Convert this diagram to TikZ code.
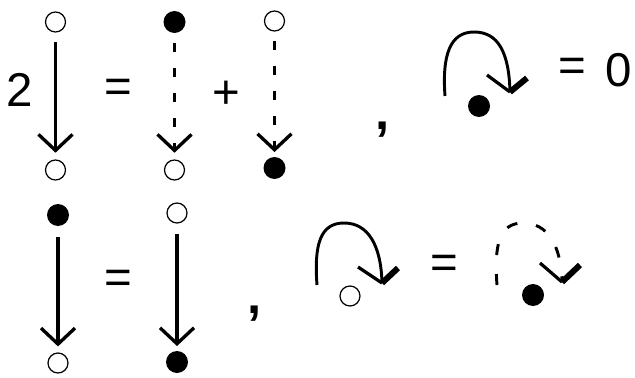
\documentclass[tikz,border=0pt]{standalone}
\usepackage{fontspec}
\setmainfont{Liberation Sans}
\usetikzlibrary{arrows.meta}
\tikzset{
  opendot/.style={circle, draw, line width=0.9pt, minimum size=15pt, inner sep=0pt},
  fulldot/.style={circle, fill, minimum size=16.5pt, inner sep=0pt},
  arr/.style={line width=2.5pt, -{Straight Barb[length=12pt, width=25.5pt, line width=2.5pt]}, shorten <=7pt},
  dsh/.style={arr, dash pattern=on 6.75pt off 12pt},
  loopc/.style={line width=2.2pt},
  dloopc/.style={line width=2.2pt, dash pattern=on 8.25pt off 14.25pt},
  wthin/.style={line width=2.4pt},
  wthick/.style={line width=4.5pt},
  sym/.style={font=\fontsize{35.6}{40}\selectfont, inner sep=0pt},
  commastyle/.style={font=\fontsize{38}{40}\selectfont\bfseries, inner sep=0pt}
}
\begin{document}
\begin{tikzpicture}[x=0.75pt,y=-0.75pt]
\fill[white] (0,0) rectangle (635,378);
\useasboundingbox (0,0) rectangle (635,378);

% ---------- row 1 ----------
\node[sym] (two) at (20,90) {2};
\node[opendot] (a1t) at (55.5,22) {};
\node[opendot] (a1b) at (55.5,170) {};
\draw[arr, shorten >=5pt] (a1t) -- (a1b);

\node[sym] (eqA) at (118.5,90.5) {=};

\node[fulldot] (a2t) at (174.5,22) {};
\node[opendot] (a2b) at (174.5,170) {};
\draw[dsh, shorten >=5pt] (a2t) -- (a2b);

\node[sym] (plus) at (226.5,94.5) {+};

\node[opendot] (a3t) at (274.5,21) {};
\node[fulldot] (a3b) at (274.5,168) {};
\draw[dsh, shorten >=3.5pt] (a3t) -- (a3b);

\node[commastyle] (commaA) at (383,129.5) {,};

% loop 1
\node[fulldot] (d1) at (479,106) {};
\coordinate (L1s) at (445,96);
\coordinate (L1t) at (474,32);
\coordinate (L1e) at (510,92);
\draw[loopc] (L1s) .. controls +(-3,-41) and +(-24,0) .. (L1t)
                   .. controls +(24,0) and +(-1,-40) .. (L1e);
\draw[wthin] (L1e) -- ++(-23,-17);
\draw[wthick] (L1e) -- ++(17,-14);

\node[sym] (eqB) at (572,70) {=};
\node[sym] (zero) at (619,70.5) {0};

% ---------- row 2 ----------
\node[fulldot] (b1t) at (58,215) {};
\node[opendot] (b1b) at (58,363) {};
\draw[arr, shorten <=8pt, shorten >=4.5pt] (b1t) -- (b1b);

\node[sym] (eqC) at (118.5,281.5) {=};

\node[opendot] (b2t) at (177,213) {};
\node[fulldot] (b2b) at (177,362) {};
\draw[arr, shorten <=8pt, shorten >=3.5pt] (b2t) -- (b2b);

\node[commastyle] (commaB) at (255,313.5) {,};

% loop 2
\node[opendot] (d2) at (350,296) {};
\coordinate (L2s) at (317,285);
\coordinate (L2t) at (344,223);
\coordinate (L2e) at (382,283);
\draw[loopc] (L2s) .. controls +(-3,-40) and +(-24,0) .. (L2t)
                   .. controls +(24,0) and +(-1,-38) .. (L2e);
\draw[wthin] (L2e) -- ++(-24,-16);
\draw[wthick] (L2e) -- ++(16,-15);

\node[sym] (eqD) at (444.5,267) {=};

% loop 3 (dashed)
\node[fulldot] (d3) at (533,295) {};
\coordinate (L3s) at (497,285);
\coordinate (L3t) at (523,223);
\coordinate (L3e) at (562,282);
\draw[dloopc] (L3s) .. controls +(-3,-40) and +(-24,0) .. (L3t)
                    .. controls +(24,0) and +(-1,-38) .. (L3e);
\draw[wthin] (L3e) -- ++(-22,-19);
\draw[wthick] (L3e) -- ++(18,-17);
\end{tikzpicture}
\end{document}
